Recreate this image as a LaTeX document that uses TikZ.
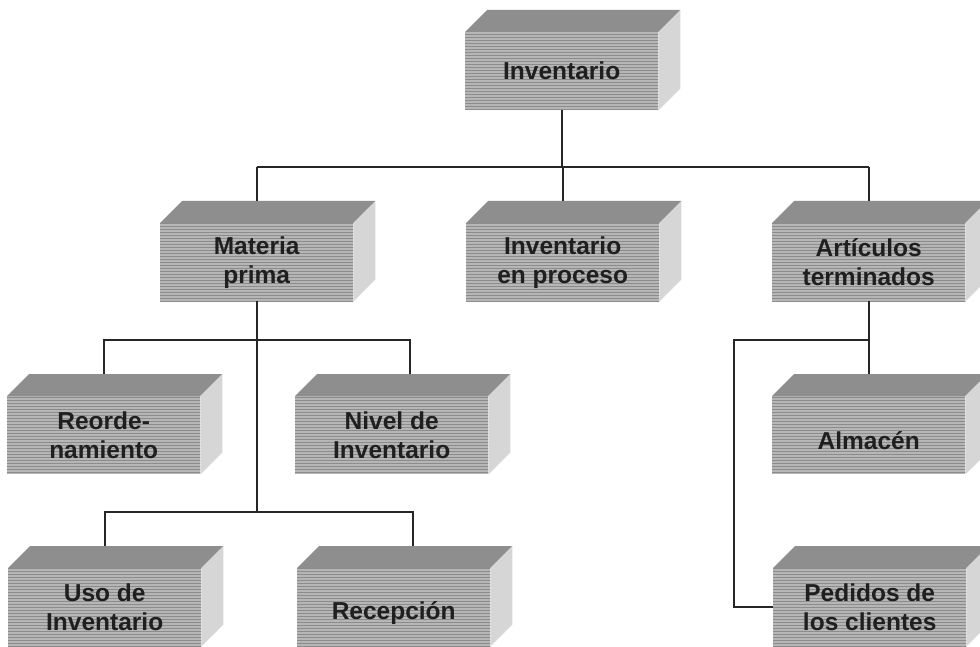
\documentclass[tikz,border=0pt]{standalone}
\usepackage{fontspec}
\usetikzlibrary{patterns}
\setmainfont{Liberation Sans}
\definecolor{frontgray}{HTML}{B6B6B6}
\definecolor{frontline}{HTML}{8C8C8C}
\definecolor{topgray}{HTML}{8E8E8E}
\definecolor{sidegray}{HTML}{D6D6D6}
\newcommand\mkcube[4]{%
  \node[front] (#1) at (#2,#3) {};
  \fill[pattern=horizontal lines, pattern color=frontline] (#1.north west) rectangle (#1.south east);
  \node[frontlabel] at (#1.center) {#4};
  \fill[topgray] (#1.north west) -- (#1.north east) -- ([shift={(22pt,22pt)}]#1.north east) -- ([shift={(22pt,22pt)}]#1.north west) -- cycle;
  \fill[sidegray] (#1.north east) -- (#1.south east) -- ([shift={(22pt,22pt)}]#1.south east) -- ([shift={(22pt,22pt)}]#1.north east) -- cycle;
}
\begin{document}
\begin{tikzpicture}[x=1pt,y=-1pt,
  front/.style={draw=none, fill=frontgray, minimum width=193pt, minimum height=78pt,
    anchor=north west, inner sep=0pt},
  frontlabel/.style={inner sep=0pt, align=center,
    font=\fontsize{24.5}{29}\selectfont\bfseries, text=black!88},
  conn/.style={line width=1.6pt, draw=black!85}]
\useasboundingbox (0,0) rectangle (980,647);
\clip (0,0) rectangle (980,647);
\fill[white] (0,0) rectangle (980,647);

\mkcube{inv}{465}{32}{Inventario}
\mkcube{mat}{160}{223}{Materia\\prima}
\mkcube{proc}{466}{223}{Inventario\\en proceso}
\mkcube{art}{772}{223}{Artículos\\terminados}
\mkcube{reo}{7}{396}{Reorde-\\namiento}
\mkcube{niv}{295}{396}{Nivel de\\Inventario}
\mkcube{alm}{772}{396}{\\Almacén}
\mkcube{uso}{8}{568}{Uso de\\Inventario}
\mkcube{rec}{297}{568}{\\Recepción}
\mkcube{ped}{773}{568}{Pedidos de\\los clientes}

\coordinate (bar0) at (561.5,167);
\coordinate (bar2) at (256.5,512);
\coordinate (nivtop) at (410,374);
\coordinate (rectop) at (413,546);
\coordinate (pedline) at (734,340);

% level 0 -> 1
\draw[conn] (inv.south) -- (inv.south |- bar0);
\draw[conn] (mat.north |- bar0) -- (art.north |- bar0);
\draw[conn] (mat.north |- bar0) -- ([yshift=22pt]mat.north);
\draw[conn] (proc.north |- bar0) -- ([yshift=22pt]proc.north);
\draw[conn] (art.north |- bar0) -- ([yshift=22pt]art.north);

% materia prima branch
\draw[conn] (mat.south) -- (mat.south |- bar2);
\draw[conn] ([yshift=22pt]reo.north) -- ++(0,-34) -| (nivtop);
\draw[conn] ([yshift=22pt]uso.north) -- ++(0,-34) -| (rectop);

% articulos branch
\draw[conn] (art.south) -- ([yshift=22pt]alm.north);
\draw[conn] (art.south |- pedline) -- (pedline) |- (ped.west);
\end{tikzpicture}
\end{document}
